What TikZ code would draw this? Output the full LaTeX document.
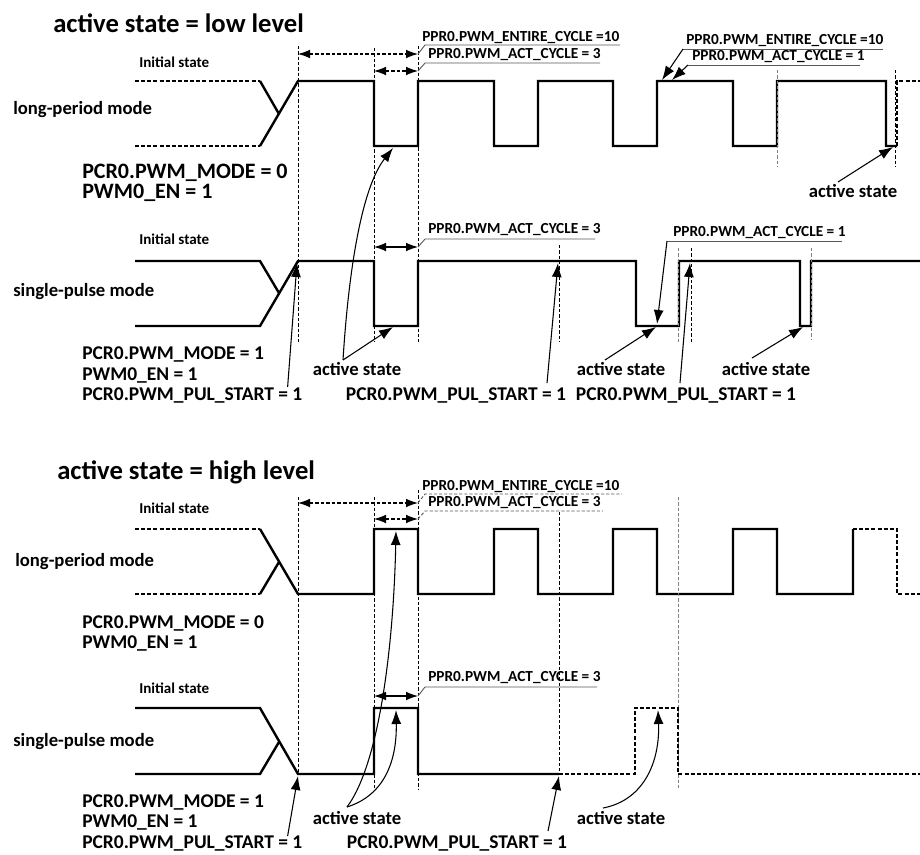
\documentclass[tikz,border=0pt]{standalone}
\usepackage{fontspec}
\setmainfont{Carlito}
\usetikzlibrary{arrows.meta}

\tikzset{
  wave/.style={line width=1.8pt, line join=miter},
  wavedash/.style={wave, dash pattern=on 3pt off 1.6pt},
  initdash/.style={line width=1.3pt, dash pattern=on 3pt off 1.6pt},
  vline/.style={line width=0.6pt, dash pattern=on 2.4pt off 1.6pt},
  vgray/.style={vline, gray},
  dimarr/.style={line width=0.8pt, {Latex[length=9pt,width=6.5pt]}-{Latex[length=9pt,width=6.5pt]}},
  dimdash/.style={dimarr, dash pattern=on 2.6pt off 1.6pt},
  lead/.style={line width=0.7pt, gray!70!black},
  leaddash/.style={lead, dash pattern=on 2.4pt off 1.4pt},
  pin/.style={line width=0.8pt, -{Latex[length=10.5pt,width=7.5pt]}},
  ttl/.style={font=\fontsize{20}{24}\selectfont\bfseries, anchor=west, inner sep=0pt},
  modelbl/.style={font=\fontsize{14}{16}\selectfont\bfseries, anchor=west, inner sep=0pt},
  initlbl/.style={font=\fontsize{11.3}{13}\selectfont\bfseries, anchor=west, inner sep=0pt},
  regbig/.style={font=\fontsize{16.5}{19}\selectfont\bfseries, anchor=west, inner sep=0pt},
  reglbl/.style={font=\fontsize{14.6}{17}\selectfont\bfseries, anchor=west, inner sep=0pt},
  pprlbl/.style={font=\fontsize{11.5}{13}\selectfont\bfseries, anchor=west, inner sep=0pt},
  actlbl/.style={font=\fontsize{14}{16}\selectfont\bfseries, inner sep=0pt},
  startlbl/.style={font=\fontsize{14.6}{17}\selectfont\bfseries, inner sep=0pt}
}

\begin{document}
\begin{tikzpicture}[x=0.75pt,y=-0.75pt]
  \useasboundingbox (0,0) rectangle (920,854);

  %%% active state = low level
  \node[ttl] (ttllow) at (53,23) {active state = low level};

  % long-period mode
  \node[initlbl] (initA) at (139,62) {Initial state};
  \node[modelbl] (modeA) at (13,110) {long-period mode};
  \node[regbig] (regA1) at (82,173) {PCR0.PWM\_MODE = 0};
  \node[regbig] (regA2) at (82,193) {PWM0\_EN = 1};

  \draw[initdash] (135,81) -- (260,81);
  \draw[initdash] (135,146) -- (260,146);
  \draw[wave] (260,81) -- (279,114);
  \draw[wave] (260,146) -- (298,81) -- (374,81) -- (374,146) -- (418,146) -- (418,81)
    -- (494,81) -- (494,146) -- (538,146) -- (538,81) -- (613,81) -- (613,146)
    -- (657,146) -- (657,81) -- (733,81) -- (733,146) -- (777,146) -- (777,81)
    -- (886,81) -- (886,146) -- (897,146);
  \draw[wavedash] (897,146) -- (897,81) -- (920,81);

  \draw[vline] (298,46) -- (298,342);
  \draw[vline] (374,48) -- (374,342);
  \draw[vline] (418,46) -- (418,342);
  \draw[vgray] (777,70) -- (777,167);
  \draw[vline] (895,70) -- (895,167);

  \draw[dimdash] (298,54) -- (418,54);
  \draw[dimdash] (374,71) -- (418,71);
  \node[pprlbl] (entA) at (422,38) {PPR0.PWM\_ENTIRE\_CYCLE =10};
  \node[pprlbl] (actA) at (428,55) {PPR0.PWM\_ACT\_CYCLE = 3};
  \draw[lead] (418,54) -- (425,45) -- (620,45);
  \draw[lead] (418,71) -- (425,63) -- (600,63);

  \node[pprlbl] (entA2) at (686,41) {PPR0.PWM\_ENTIRE\_CYCLE =10};
  \node[pprlbl] (actA2) at (692,57) {PPR0.PWM\_ACT\_CYCLE = 1};
  \draw[lead] (883,49) -- (683,49);
  \draw[lead] (860,65) -- (688,65);
  \draw[pin] (683,49) -- (662,80);
  \draw[pin] (688,65) -- (672,80);

  \node[actlbl] (actstA) at (853,191) {active state};
  \draw[pin] ([shift={(-15,-9)}]actstA.center) -- (893,147);

  % single-pulse mode
  \node[initlbl] (initB) at (139,239) {Initial state};
  \node[modelbl] (modeB) at (13,292) {single-pulse mode};
  \node[reglbl] (regB1) at (82,354) {PCR0.PWM\_MODE = 1};
  \node[reglbl] (regB2) at (82,375) {PWM0\_EN = 1};
  \node[reglbl] (regB3) at (82,395) {PCR0.PWM\_PUL\_START = 1};

  \draw[wave] (135,261) -- (260,261) -- (279,293);
  \draw[wave] (135,326) -- (260,326) -- (298,261) -- (374,261) -- (374,326)
    -- (418,326) -- (418,261) -- (636,261) -- (636,326) -- (679,326) -- (679,261)
    -- (800,261) -- (800,326) -- (811,326) -- (811,261) -- (920,261);

  \draw[vline] (559,245) -- (559,342);
  \draw[vgray] (678,248) -- (678,342);
  \draw[vline] (691,248) -- (691,342);
  \draw[vgray] (811,248) -- (811,340);

  \draw[dimarr] (374,247) -- (418,247);
  \node[pprlbl] (actB) at (428,230) {PPR0.PWM\_ACT\_CYCLE = 3};
  \draw[lead] (418,247) -- (425,239) -- (595,239);

  \node[pprlbl] (actB2) at (673,233) {PPR0.PWM\_ACT\_CYCLE = 1};
  \draw[lead] (842,241) -- (667,241);
  \draw[pin] (667,241) -- (657,324);

  \node[startlbl] (startB1) at (456,395) {PCR0.PWM\_PUL\_START = 1};
  \node[startlbl] (startB2) at (686,395) {PCR0.PWM\_PUL\_START = 1};
  \draw[pin] ([shift={(-15,-8)}]regB3.east) -- (297,263);
  \draw[pin] ([shift={(91,-12)}]startB1.center) -- (558,263);
  \draw[pin] ([shift={(-6,-12)}]startB2.center) -- (690,263);

  \node[actlbl] (actstB1) at (357,369) {active state};
  \node[actlbl] (actstB2) at (621,369) {active state};
  \node[actlbl] (actstB3) at (766,369) {active state};
  \draw[pin] ([shift={(-14,-9)}]actstB1.center) .. controls (348,280) and (360,190) .. (393,148);
  \draw[pin] ([shift={(-14,-9)}]actstB1.center) -- (393,327);
  \draw[pin] ([shift={(-16,-9)}]actstB2.center) -- (656,327);
  \draw[pin] ([shift={(-14,-11)}]actstB3.center) -- (803,327);

  %%% active state = high level
  \node[ttl] (ttlhigh) at (57,472) {active state = high level};

  % long-period mode
  \node[initlbl] (initC) at (139,508) {Initial state};
  \node[modelbl] (modeC) at (15,562) {long-period mode};
  \node[reglbl] (regC1) at (82,623) {PCR0.PWM\_MODE = 0};
  \node[reglbl] (regC2) at (82,643) {PWM0\_EN = 1};

  \draw[initdash] (135,529) -- (260,529);
  \draw[initdash] (135,594) -- (260,594);
  \draw[wave] (260,594) -- (279,562);
  \draw[wave] (260,529) -- (298,594) -- (374,594) -- (374,529) -- (418,529) -- (418,594)
    -- (494,594) -- (494,529) -- (538,529) -- (538,594) -- (613,594) -- (613,529)
    -- (657,529) -- (657,594) -- (733,594) -- (733,529) -- (777,529) -- (777,594)
    -- (853,594) -- (853,529);
  \draw[wavedash] (853,529) -- (897,529) -- (897,594) -- (920,594);

  \draw[vline] (298,497) -- (298,775);
  \draw[vline] (374,497) -- (374,790);
  \draw[vline] (418,490) -- (418,790);
  \draw[vline] (559,512) -- (559,773);
  \draw[vgray] (678,497) -- (678,790);

  \draw[dimdash] (298,503) -- (418,503);
  \draw[dimdash] (374,519) -- (418,519);
  \node[pprlbl] (entC) at (422,487) {PPR0.PWM\_ENTIRE\_CYCLE =10};
  \node[pprlbl] (actC) at (428,503) {PPR0.PWM\_ACT\_CYCLE = 3};
  \draw[leaddash] (418,503) -- (425,494) -- (622,494);
  \draw[leaddash] (418,519) -- (425,511) -- (603,511);

  % single-pulse mode
  \node[initlbl] (initD) at (139,688) {Initial state};
  \node[modelbl] (modeD) at (13,742) {single-pulse mode};
  \node[reglbl] (regD1) at (82,802) {PCR0.PWM\_MODE = 1};
  \node[reglbl] (regD2) at (82,822) {PWM0\_EN = 1};
  \node[reglbl] (regD3) at (82,843) {PCR0.PWM\_PUL\_START = 1};

  \draw[wave] (135,774) -- (260,774) -- (279,742);
  \draw[wave] (135,708) -- (260,708) -- (298,774) -- (374,774) -- (374,708)
    -- (418,708) -- (418,774) -- (559,774);
  \draw[wavedash] (559,774) -- (635,774) -- (635,708) -- (678,708) -- (678,774) -- (920,774);

  \draw[dimarr] (374,696) -- (418,696);
  \node[pprlbl] (actD) at (428,678) {PPR0.PWM\_ACT\_CYCLE = 3};
  \draw[lead] (418,696) -- (425,687) -- (597,687);

  \node[startlbl] (startD1) at (457,843) {PCR0.PWM\_PUL\_START = 1};
  \draw[pin] ([shift={(-15,-7)}]regD3.east) -- (298,776);
  \draw[pin] ([shift={(91,-12)}]startD1.center) -- (559,776);

  \node[actlbl] (actstD1) at (357,818) {active state};
  \node[actlbl] (actstD2) at (621,818) {active state};
  \draw[pin] ([shift={(-10,-11)}]actstD1.center) .. controls (382,760) and (394,630) .. (396,531);
  \draw[pin] ([shift={(-10,-11)}]actstD1.center) .. controls (385,795) and (397,760) .. (396,710);
  \draw[pin] ([shift={(-18,-10)}]actstD2.center) .. controls (645,800) and (660,760) .. (658,710);
\end{tikzpicture}
\end{document}
